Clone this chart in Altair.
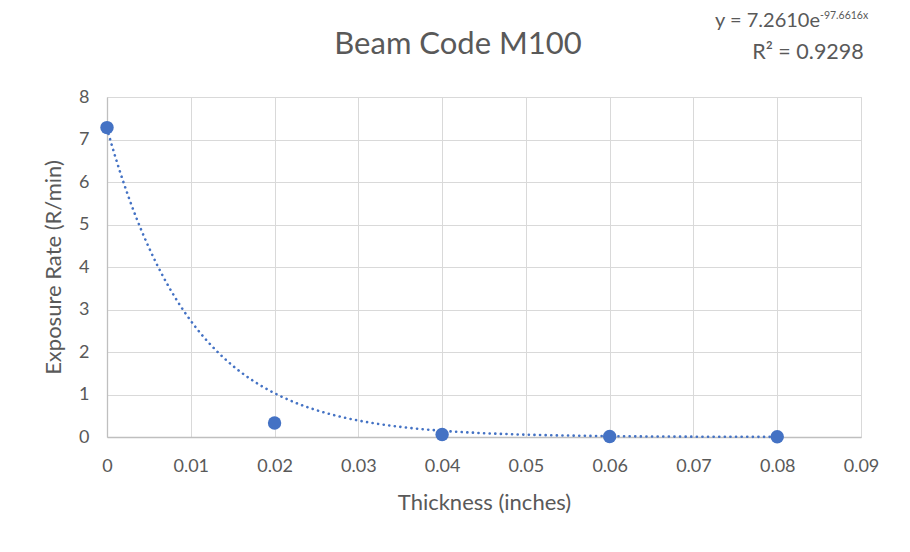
import altair as alt
import pandas as pd

# Data
thickness = [0.0, 0.02, 0.04, 0.06, 0.08]
exposure = [7.28, 0.33, 0.06, 0.01, 0.005]

# Trendline as stated on the chart: y = 7.2610 e^(-97.6616 x)
fit_a = 7.2610
fit_b = -97.6616

x_ticks = [0, 0.01, 0.02, 0.03, 0.04, 0.05, 0.06, 0.07, 0.08, 0.09]
y_ticks = [0, 1, 2, 3, 4, 5, 6, 7, 8]

title_text = ["Beam Code M100"]
eq_main = ["y = 7.2610e"]
eq_sup = ["-97.6616x"]
eq_r2 = ["R\u00b2 = 0.9298"]

FONT = "Lato"
GREY = "#595959"
BLUE = "#4472C4"

pts = pd.DataFrame({"Thickness": thickness, "Exposure": exposure})

xs = alt.Scale(domain=[0, 0.09], nice=False, zero=False)
ys = alt.Scale(domain=[0, 8], nice=False)

x_axis = alt.Axis(values=x_ticks, format=".2~f", title="Thickness (inches)",
                  grid=True, gridColor="#d9d9d9", ticks=False, labelFlush=False,
                  domainColor="#bfbfbf", domainWidth=1.3,
                  labelFont=FONT, labelFontSize=18, labelColor=GREY, labelPadding=20,
                  titleFont=FONT, titleFontSize=22, titleColor=GREY,
                  titleFontWeight="normal", titlePadding=17)
y_axis = alt.Axis(values=y_ticks, title="Exposure Rate (R/min)",
                  grid=True, gridColor="#d9d9d9", ticks=False, labelFlush=False,
                  domainColor="#bfbfbf", domainWidth=1.3,
                  labelFont=FONT, labelFontSize=18, labelColor=GREY, labelPadding=18,
                  titleFont=FONT, titleFontSize=22, titleColor=GREY,
                  titleFontWeight="normal", titlePadding=13)

trend = (
    alt.Chart(alt.sequence(0, 0.0802, 0.0005, as_="Thickness"))
    .transform_calculate(Exposure=f"{fit_a}*exp({fit_b}*datum.Thickness)")
    .mark_line(color=BLUE, strokeWidth=2.6, strokeDash=[0.1, 5.5], strokeCap="round")
    .encode(x=alt.X("Thickness:Q", scale=xs, axis=x_axis),
            y=alt.Y("Exposure:Q", scale=ys, axis=y_axis))
)

points = (
    alt.Chart(pts)
    .mark_circle(color=BLUE, size=180, opacity=1)
    .encode(x=alt.X("Thickness:Q", scale=xs), y=alt.Y("Exposure:Q", scale=ys))
)

ttl = alt.Chart(pd.DataFrame({"t": title_text})).mark_text(
    font=FONT, fontSize=31, color=GREY, align="center", baseline="middle"
).encode(x=alt.value(351), y=alt.value(-52), text="t:N")
eq1 = alt.Chart(pd.DataFrame({"t": eq_main})).mark_text(
    font=FONT, fontSize=20, color=GREY, align="right", baseline="middle"
).encode(x=alt.value(713), y=alt.value(-76), text="t:N")
eq2 = alt.Chart(pd.DataFrame({"t": eq_sup})).mark_text(
    font=FONT, fontSize=10.5, color=GREY, align="left", baseline="middle"
).encode(x=alt.value(713), y=alt.value(-81), text="t:N")
eq3 = alt.Chart(pd.DataFrame({"t": eq_r2})).mark_text(
    font=FONT, fontSize=21.5, color=GREY, align="center", baseline="middle"
).encode(x=alt.value(701), y=alt.value(-44), text="t:N")

chart = (
    alt.layer(trend, points, ttl, eq1, eq2, eq3)
    .properties(
        width=754, height=340,
        autosize="none",
        padding={"left": 99, "top": 89, "right": 40, "bottom": 100},
    )
    .configure_view(stroke="#d9d9d9")
    .configure(background="white")
)

chart.save("out.html", embed_options={"renderer": "svg", "actions": False})
